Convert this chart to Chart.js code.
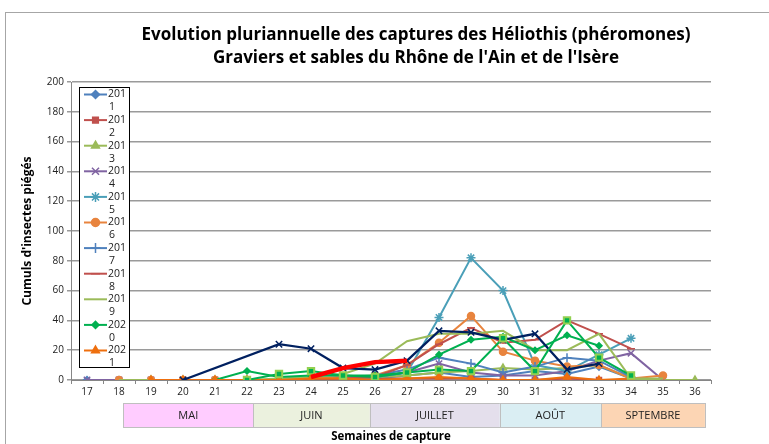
<!DOCTYPE html>
<html lang="fr">
<head>
<meta charset="utf-8">
<title>Héliothis - captures</title>
<script src="https://cdn.jsdelivr.net/npm/chart.js@4.4.1/dist/chart.umd.min.js"></script>
<style>
  html, body { margin: 0; padding: 0; background: #fff; }
  #wrap { position: relative; width: 769px; height: 444px; }
</style>
</head>
<body>
<div id="wrap"><canvas id="chart-captures"></canvas></div>
<script>
// semaines 17 -> 36
const weeks = ["17", "18", "19", "20", "21", "22", "23", "24", "25", "26", "27", "28", "29", "30", "31", "32", "33", "34", "35", "36"];
const years = ["2011", "2012", "2013", "2014", "2015", "2016", "2017", "2018", "2019", "2020", "2021", "2022", "2023", "2024"];

const y2011 = [0, 0, 0, 0, 0, 0, 0, 1, 2, 1, 3, 5, 2, 3, 6, 4, 9, 1, 0, null];
const y2012 = [null, 0, 0, 0, 0, 0, 0, 0, 0, 1, 1, 1, 1, 0, 0, 1, 0, 0, null, null];
const y2013 = [null, null, 0, 0, 0, 0, 0, 0, 1, 2, 3, 5, 6, 8, 7, 8, 10, 1, 0, 0];
const y2014 = [0, 0, 0, 0, 0, 0, 0, 1, 1, 2, 5, 11, 5, 3, 3, 6, 13, 18, 0, null];
const y2015 = [null, null, null, null, null, null, 0, 0, 1, 2, 5, 42, 82, 60, 10, 6, 17, 28, null, null];
const y2016 = [null, 0, 0, 0, 0, 0, 0, 1, 2, 3, 10, 25, 43, 19, 13, 9, 10, 1, 3, null];
const y2017 = [null, null, null, null, null, null, 0, 0, 1, 3, 7, 15, 11, 5, 9, 15, 13, 2, null, null];
const y2018 = [null, null, null, null, null, null, 0, 0, 1, 2, 10, 24, 35, 25, 27, 40, 31, 21, null, null];
const y2019 = [null, 0, 0, 0, 0, 0, 1, 2, 4, 11, 26, 31, 31, 33, 20, 20, 31, 1, 1, null];
const y2020 = [null, null, null, null, 0, 6, 2, 3, 3, 3, 5, 17, 27, 29, 20, 30, 23, null, null, null];
const y2021 = [null, null, 0, 0, 0, 0, 0, 1, 1, 0, 1, 2, 1, 0, 0, 2, 0, 1, null, null];
const y2022 = [null, null, null, 0, null, null, 24, 21, 8, 7, 13, 33, 32, 27, 31, 7, 11, null, null, null];
const y2023 = [null, null, null, null, null, 0, 4, 6, 3, 2, 5, 7, 6, 28, 6, 40, 15, 3, null, null];
const y2024 = [null, null, null, null, null, null, null, 2, 8, 12, 13, null, null, null, null, null, null, null, null, null];

const seriesValues = [y2011, y2012, y2013, y2014, y2015, y2016, y2017, y2018, y2019, y2020, y2021, y2022, y2023, y2024];
const legendCount = 11;

// bandeau des mois (bornes en semaines)
const months = ["MAI", "JUIN", "JUILLET", "AOÛT", "SPTEMBRE"];
const monthFrom = [18.14, 22.19, 25.84, 29.9, 33.06];
const monthTo = [22.19, 25.84, 29.9, 33.06, 36.31];

const titleLines = [
  "Evolution pluriannuelle des captures des Héliothis (phéromones)",
  "Graviers et sables du Rhône de l'Ain et de l'Isère",
];

const FONT = "'Open Sans', 'Noto Sans', sans-serif";

const seriesStyles = [
  { color: "#4F81BD", point: "rectRot", r: 3.5 },
  { color: "#C0504D", point: "rect", r: 3.5 },
  { color: "#9BBB59", point: "triangle", r: 4 },
  { color: "#8064A2", point: "crossRot", r: 4.5 },
  { color: "#4A9FB8", point: "star", r: 4.5 },
  { color: "#E8843E", point: "circle", r: 3.5 },
  { color: "#4F81BD", point: "cross", r: 4.5 },
  { color: "#C0504D", point: "line", r: 4 },
  { color: "#9BBB59", point: false, r: 0 },
  { color: "#00B050", point: "rectRot", r: 3 },
  { color: "#EE6F0E", point: "triangle", r: 4 },
  { color: "#002060", point: "crossRot", r: 4.5, width: 2.25 },
  { color: "#00B050", border: "#92D050", point: "rect", r: 4.5, width: 2, pw: 2 },
  { color: "#FF0000", point: false, r: 0, width: 4.5 },
];

const monthColors = ["#FFCCFF", "#EBF1DE", "#E4DFEC", "#DAEEF3", "#FCD5B4"];

document.addEventListener("DOMContentLoaded", () => {
  main();
});

const main = () => {
  const ctx = document.querySelector("#chart-captures");
  new Chart(ctx, generateChartConfig());
};

const getDatasets = () => {
  return seriesValues.map((values, i) => {
    const s = seriesStyles[i];
    return {
      label: years[i],
      data: values,
      borderColor: s.color,
      backgroundColor: s.color,
      borderWidth: s.width || 2,
      pointStyle: s.point,
      pointRadius: s.r,
      pointHoverRadius: s.r,
      pointBackgroundColor: s.color,
      pointBorderColor: s.border || s.color,
      pointBorderWidth: s.pw || 1.5,
      spanGaps: true,
      tension: 0,
      order: seriesValues.length - i, // derniere serie au-dessus
    };
  });
};

const framePlugin = {
  id: "frame",
  beforeDraw: (chart) => {
    const c = chart.ctx;
    c.save();
    c.fillStyle = "#fff";
    c.fillRect(0, 0, chart.width, chart.height);
    c.strokeStyle = "#A6A6A6";
    c.lineWidth = 1;
    c.strokeRect(5.5, 12.5, chart.width, chart.height);

    c.fillStyle = "#000";
    c.font = "bold 17px " + FONT;
    c.textAlign = "center";
    c.textBaseline = "middle";
    c.fillText(titleLines[0], 416, 35);
    c.fillText(titleLines[1], 416, 58);
    c.restore();
  },
};

const monthPlugin = {
  id: "monthBand",
  afterDraw: (chart) => {
    const c = chart.ctx;
    const x = chart.scales.x;
    const top = 403;
    const h = 24;
    c.save();
    c.font = "11px " + FONT;
    c.textAlign = "center";
    c.textBaseline = "middle";
    months.forEach((m, i) => {
      const x0 = x.getPixelForValue(monthFrom[i] - 17);
      const x1 = x.getPixelForValue(monthTo[i] - 17);
      c.fillStyle = monthColors[i];
      c.fillRect(x0, top, x1 - x0, h);
      c.strokeStyle = "#BFBFBF";
      c.lineWidth = 1;
      c.strokeRect(Math.round(x0) + 0.5, top + 0.5, Math.round(x1 - x0), h);
      c.fillStyle = "#222";
      c.fillText(m, (x0 + x1) / 2, top + h / 2 + 1);
    });
    c.restore();
  },
};

const legendPlugin = {
  id: "excelLegend",
  afterDraw: (chart) => {
    const c = chart.ctx;
    const left = 79.5;
    const top = 87.5;
    const w = 50;
    const h = 280;
    const step = 25.6;
    c.save();
    c.fillStyle = "#fff";
    c.fillRect(left, top, w, h);
    c.strokeStyle = "#000";
    c.lineWidth = 1;
    c.strokeRect(left, top, w, h);
    c.font = "10.5px " + FONT;
    c.textBaseline = "middle";
    c.textAlign = "left";
    for (let i = 0; i < legendCount; i++) {
      const ds = chart.data.datasets[i];
      const y = 94.5 + i * step;
      c.strokeStyle = ds.borderColor;
      c.lineWidth = 2;
      c.beginPath();
      c.moveTo(84, y);
      c.lineTo(107, y);
      c.stroke();
      if (ds.pointStyle) {
        c.fillStyle = ds.pointBackgroundColor;
        c.strokeStyle = ds.pointBorderColor;
        c.lineWidth = 1.5;
        Chart.helpers.drawPoint(c, { pointStyle: ds.pointStyle, radius: ds.pointRadius + 0.5, borderWidth: 1.5, rotation: 0 }, 95.5, y);
      }
      c.fillStyle = "#222";
      c.fillText(ds.label.slice(0, 3), 108, y);
      c.fillText(ds.label.slice(3), 109, y + 13);
    }
    c.restore();
  },
};

const generateChartConfig = () => {
  return {
    type: "line",
    data: { labels: weeks, datasets: getDatasets() },
    plugins: [framePlugin, monthPlugin, legendPlugin],
    options: {
      responsive: true,
      maintainAspectRatio: false,
      animation: false,
      events: [],
      layout: { padding: { top: 82, right: 58, bottom: 0, left: 20 } },
      plugins: {
        legend: { display: false },
        title: { display: false },
        tooltip: { enabled: false },
      },
      scales: {
        x: {
          type: "category",
          offset: true,
          afterFit: (scale) => {
            scale.height = 64;
          },
          grid: {
            offset: true,
            drawOnChartArea: false,
            drawTicks: true,
            tickLength: 4,
            color: "#868686",
          },
          border: { color: "#868686", width: 1 },
          ticks: {
            autoSkip: false,
            maxRotation: 0,
            padding: 2,
            color: "#222",
            font: { family: FONT, size: 10 },
          },
          title: {
            display: true,
            text: "Semaines de capture",
            color: "#000",
            padding: { top: 0, bottom: 0 },
            font: { family: FONT, size: 11.5, weight: "bold" },
          },
        },
        y: {
          min: 0,
          max: 200,
          afterFit: (scale) => {
            scale.width = 51;
          },
          ticks: {
            stepSize: 20,
            padding: 3,
            color: "#222",
            font: { family: FONT, size: 10 },
          },
          grid: {
            color: "#9A9A9A",
            lineWidth: 1.5,
            tickLength: 4,
          },
          border: { color: "#868686", width: 1 },
          title: {
            display: true,
            text: "Cumuls d'insectes piégés",
            color: "#000",
            padding: { top: 0, bottom: 2 },
            font: { family: FONT, size: 12, weight: "bold" },
          },
        },
      },
    },
  };
};
</script>
</body>
</html>
